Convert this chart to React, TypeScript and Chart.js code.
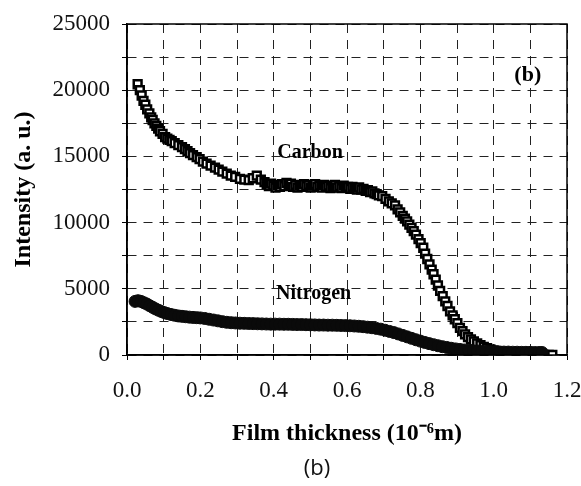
import React, { useEffect, useRef } from "react";
import { Chart, registerables } from "chart.js";

Chart.register(...registerables);

const carbonX = [
  0.029, 0.035, 0.040, 0.045, 0.050, 0.055, 0.061, 0.066, 0.070, 0.075, 0.080, 0.085, 0.090, 0.097, 0.104, 0.110,
  0.116, 0.122, 0.130, 0.140, 0.150, 0.158, 0.165, 0.172, 0.180, 0.190, 0.198, 0.207, 0.217, 0.228, 0.240, 0.250,
  0.260, 0.272, 0.283, 0.295, 0.308, 0.320, 0.332, 0.343, 0.354, 0.365,
  0.375, 0.381, 0.387, 0.393, 0.399, 0.405, 0.411, 0.417, 0.423, 0.429, 0.435, 0.441, 0.447, 0.453, 0.459, 0.465,
  0.471, 0.477, 0.483, 0.489, 0.495, 0.501, 0.507, 0.513, 0.519, 0.525, 0.531, 0.537, 0.543, 0.549, 0.555, 0.561,
  0.567, 0.573, 0.579, 0.585, 0.591, 0.597, 0.603, 0.609, 0.615, 0.621, 0.627, 0.633, 0.639, 0.645, 0.651, 0.657,
  0.663, 0.669, 0.675, 0.681, 0.687,
  0.696, 0.705, 0.714, 0.722, 0.731, 0.738, 0.745, 0.752, 0.758, 0.764, 0.770, 0.776,
  0.782, 0.788, 0.795, 0.801, 0.808, 0.813, 0.819, 0.825, 0.831, 0.836, 0.842, 0.848, 0.854, 0.861, 0.868, 0.874,
  0.881, 0.888, 0.894, 0.901, 0.908, 0.915, 0.922, 0.930, 0.938, 0.946, 0.955, 0.964, 0.973, 0.982, 0.991, 1.000,
  1.010, 1.020, 1.030, 1.042, 1.054, 1.066, 1.078, 1.090, 1.102, 1.114, 1.126, 1.138, 1.150, 1.160,
];
const carbonY = [
  20450, 20000, 19600, 19200, 18900, 18550, 18250, 17950, 17750, 17500, 17300, 17100, 16900, 16700, 16450, 16350,
  16250, 16150, 16000, 15850, 15700, 15550, 15400, 15250, 15100, 14950, 14800, 14600, 14450, 14300, 14150, 14000,
  13850, 13700, 13550, 13450, 13300, 13250, 13200, 13350, 13550, 13250,
  13050, 12900, 12750, 12950, 12800, 12650, 12850, 12700, 12900, 12750, 13000, 12850, 12950, 12700, 12850, 12650,
  12800, 12700, 12900, 12750, 12850, 12650, 12800, 12900, 12700, 12800, 12650, 12850, 12700, 12800, 12600, 12750,
  12850, 12650, 12750, 12600, 12800, 12650, 12700, 12550, 12700, 12600, 12500, 12650, 12500, 12550, 12400, 12450,
  12300, 12350, 12200, 12150, 12050,
  12000, 11800, 11600, 11450, 11300, 11000, 10780, 10500, 10300, 10100, 9850, 9600,
  9350, 9100, 8750, 8450, 8100, 7650, 7250, 6850, 6450, 6100, 5700, 5250, 4850, 4450, 4050, 3700,
  3300, 3000, 2700, 2400, 2050, 1800, 1550, 1350, 1180, 1020, 870, 740, 620, 520, 420, 340,
  270, 210, 160, 120, 90, 70, 50, 40, 30, 25, 20, 15, 10, 5,
];

const nitrogenX = [
  0.022, 0.030, 0.038, 0.046, 0.054, 0.062, 0.070, 0.078, 0.086, 0.094, 0.102, 0.110, 0.120, 0.130, 0.140, 0.150,
  0.160, 0.170, 0.180, 0.190, 0.200, 0.212, 0.224, 0.236, 0.248, 0.260, 0.272, 0.284, 0.296, 0.308, 0.320, 0.332,
  0.344, 0.356, 0.368, 0.380, 0.392, 0.404, 0.416, 0.428, 0.440, 0.452, 0.464, 0.476, 0.488, 0.500, 0.512, 0.524,
  0.536, 0.548, 0.560, 0.572, 0.584, 0.596, 0.608, 0.620, 0.632, 0.644, 0.656, 0.668, 0.680, 0.692, 0.704, 0.716,
  0.728, 0.740, 0.752, 0.764, 0.776, 0.788, 0.800, 0.812, 0.824, 0.836, 0.848, 0.860, 0.872, 0.884, 0.896, 0.908,
  0.920, 0.932, 0.944, 0.956, 0.968, 0.980, 0.992, 1.004, 1.016, 1.028, 1.040, 1.052, 1.064, 1.076, 1.088, 1.100,
  1.112, 1.124, 1.132,
];
const nitrogenY = [
  4050, 4100, 4050, 3950, 3850, 3720, 3600, 3480, 3380, 3280, 3200, 3130, 3060, 3000, 2950, 2920,
  2890, 2860, 2840, 2820, 2800, 2760, 2700, 2640, 2580, 2520, 2470, 2440, 2420, 2400, 2390, 2380,
  2370, 2360, 2350, 2340, 2330, 2330, 2330, 2320, 2320, 2310, 2300, 2300, 2290, 2280, 2270, 2260,
  2260, 2250, 2250, 2240, 2230, 2220, 2210, 2190, 2170, 2140, 2100, 2060, 2010, 1950, 1870, 1780,
  1690, 1590, 1480, 1370, 1260, 1150, 1050, 950, 860, 780, 700, 630, 570, 510, 460, 420,
  380, 350, 320, 300, 280, 260, 250, 240, 230, 220, 220, 210, 210, 200, 200, 200,
  190, 190, 190,
];

const xTickLabels = ["0.0", "0.2", "0.4", "0.6", "0.8", "1.0", "1.2"];
const yTickLabels = ["0", "5000", "10000", "15000", "20000", "25000"];

const annotations = [
  { text: "Carbon", x: 0.499, y: 15300, size: 20 },
  { text: "Nitrogen", x: 0.509, y: 4620, size: 20 },
  { text: "(b)", x: 1.093, y: 21140, size: 22 },
];

export default function App() {
  const ref = useRef<HTMLCanvasElement | null>(null);

  useEffect(() => {
    const canvas = ref.current;
    if (!canvas) return;

    const labelPlugin = {
      id: "labels",
      afterDatasetsDraw(chart: any) {
        const { ctx, chartArea } = chart;
        const xs = chart.scales.x;
        const ys = chart.scales.y;
        ctx.save();
        ctx.strokeStyle = "#000";
        ctx.lineWidth = 1.5;
        ctx.setLineDash([]);
        ctx.strokeRect(chartArea.left, chartArea.top, chartArea.right - chartArea.left, chartArea.bottom - chartArea.top);
        ctx.fillStyle = "#000";
        ctx.textAlign = "center";
        ctx.textBaseline = "middle";
        for (const a of annotations) {
          ctx.font = `bold ${a.size}px 'Liberation Serif'`;
          ctx.fillText(a.text, xs.getPixelForValue(a.x), ys.getPixelForValue(a.y));
        }
        ctx.font = "22px 'Open Sans'";
        ctx.fillStyle = "#111";
        ctx.fillText("(b)", 317, 469);
        ctx.restore();
      },
    };

    const gridOpts: any = {
      color: "#222",
      lineWidth: 1,
      tickLength: 5,
      tickBorderDash: [],
      tickColor: "#000",
    };

    const chart = new Chart(canvas, {
      type: "scatter",
      data: {
        datasets: [
          {
            label: "Carbon",
            data: carbonX.map((x, i) => ({ x, y: carbonY[i] })),
            pointStyle: "rect",
            pointRadius: 5.5,
            pointBorderWidth: 2.5,
            pointBackgroundColor: "#fff",
            pointBorderColor: "#000",
            showLine: false,
            order: 1,
          },
          {
            label: "Nitrogen",
            data: nitrogenX.map((x, i) => ({ x, y: nitrogenY[i] })),
            pointStyle: "circle",
            pointRadius: 6,
            pointBorderWidth: 1,
            pointBackgroundColor: "#0a0a0a",
            pointBorderColor: "#0a0a0a",
            showLine: false,
            order: 0,
          },
        ],
      },
      options: {
        responsive: false,
        animation: false,
        devicePixelRatio: 1,
        layout: { padding: { left: 0, right: 0, top: 24, bottom: 0 } },
        plugins: { legend: { display: false }, tooltip: { enabled: false } },
        scales: {
          x: {
            type: "linear",
            min: 0,
            max: 1.2,
            afterFit: (s: any) => {
              s.height = 131;
              s.paddingLeft = 0;
              s.paddingRight = 14;
            },
            ticks: {
              stepSize: 0.1,
              padding: 17,
              color: "#111",
              font: { family: "'Liberation Serif'", size: 23 },
              maxRotation: 0,
              autoSkip: false,
              callback: (v: any) => {
                const k = Math.round(Number(v) * 10);
                return k % 2 === 0 ? xTickLabels[k / 2] : "";
              },
            },
            grid: gridOpts,
            border: { display: true, color: "#000", width: 1.5, dash: [9, 7] } as any,
            title: {
              display: true,
              text: "Film thickness (10⁻⁶m)",
              color: "#000",
              font: { family: "'Liberation Serif'", size: 24, weight: "bold" },
              padding: { top: 0, bottom: 38 },
            },
          },
          y: {
            type: "linear",
            min: 0,
            max: 25000,
            afterFit: (s: any) => {
              s.width = 127;
              s.paddingTop = 0;
              s.paddingBottom = 0;
            },
            ticks: {
              stepSize: 2500,
              padding: 12,
              color: "#111",
              font: { family: "'Liberation Serif'", size: 23 },
              autoSkip: false,
              callback: (v: any) => {
                const k = Math.round(Number(v) / 2500);
                return k % 2 === 0 ? yTickLabels[k / 2] : "";
              },
            },
            grid: gridOpts,
            border: { display: true, color: "#000", width: 1.5, dash: [9, 7] } as any,
            title: {
              display: true,
              text: "Intensity (a. u.)",
              color: "#000",
              font: { family: "'Liberation Serif'", size: 24, weight: "bold" },
              padding: { top: 9, bottom: 0 },
            },
          },
        },
      },
      plugins: [labelPlugin],
    });

    return () => chart.destroy();
  }, []);

  return (
    <div style={{ position: "fixed", left: 0, top: 0, width: 581, height: 486, background: "#fff" }}>
      <canvas ref={ref} width={581} height={486} style={{ display: "block" }} />
    </div>
  );
}
